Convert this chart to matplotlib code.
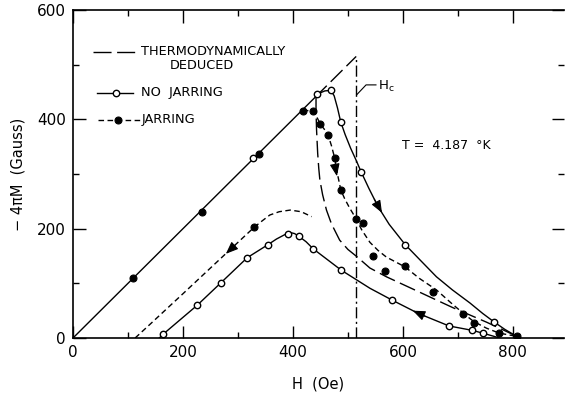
import matplotlib
matplotlib.use("Agg")
import matplotlib.pyplot as plt
from matplotlib.lines import Line2D

plt.rcParams['font.family'] = ['DejaVu Sans']
plt.rcParams['lines.scale_dashes'] = False

# ---------------- data ----------------
# ideal (perfect diamagnetism) line, -4piM = H
ideal_solid_H = [0, 440]
ideal_solid_M = [0, 440]
ideal_dash_H = [440, 515]
ideal_dash_M = [440, 515]

# critical field Hc
Hc_H = [515, 515]
Hc_M = [0, 515]

# thermodynamically deduced curve
thermo_H = [442, 442, 443, 445, 447, 449, 454, 461, 470, 485, 500, 516, 540, 570, 600, 630, 662, 692, 722, 752, 782, 807]
thermo_M = [442, 415, 380, 338, 310, 289, 262, 234, 209, 179, 162, 149, 128, 112, 98, 84, 69, 55, 42, 29, 15, 3]

# no jarring, increasing field (curve and points)
nj_up_curve_H = [444, 458, 469, 475, 481, 487, 495, 505, 515, 524, 538, 555, 575, 604, 630, 661, 690, 722, 745, 765, 785, 807]
nj_up_curve_M = [446, 452, 453, 443, 421, 395, 372, 347, 325, 304, 274, 240, 208, 171, 144, 112, 88, 64, 45, 30, 16, 3]
nj_up_pts_H = [328, 444, 469, 487, 524, 604, 765]
nj_up_pts_M = [329, 446, 453, 395, 304, 171, 30]

# no jarring, decreasing field (curve and points)
nj_dn_curve_H = [776, 745, 726, 684, 628, 581, 540, 488, 437, 424, 411, 403, 395, 385, 370, 355, 317, 269, 226, 164, 157]
nj_dn_curve_M = [0, 9, 14, 22, 45, 69, 91, 124, 163, 176, 186, 191, 193, 189, 181, 171, 147, 101, 60, 7, 0]
nj_dn_pts_H = [745, 726, 684, 581, 488, 437, 411, 391, 355, 317, 269, 226, 164]
nj_dn_pts_M = [9, 15, 22, 69, 124, 163, 186, 191, 171, 147, 101, 60, 7]

# jarring, increasing field (curve and points)
j_up_curve_H = [418, 436, 443, 450, 457, 464, 470, 476, 481, 487, 494, 503, 515, 525, 540, 555, 570, 587, 604, 630, 661, 690, 710, 729, 752, 775, 807]
j_up_curve_M = [416, 416, 405, 391, 382, 371, 352, 329, 300, 271, 255, 238, 218, 198, 175, 160, 148, 139, 130, 109, 88, 62, 45, 30, 18, 9, 3]
j_up_pts_H = [109, 234, 338, 418, 436, 450, 464, 476, 487, 515, 528, 545, 567, 604, 654, 710, 729, 775, 807]
j_up_pts_M = [110, 230, 336, 416, 416, 391, 371, 329, 271, 218, 211, 150, 123, 132, 84, 43, 28, 9, 4]

# jarring, decreasing field (curve and points)
j_dn_curve_H = [113, 140, 200, 284, 330, 345, 358, 375, 395, 415, 434]
j_dn_curve_M = [0, 25, 81, 160, 203, 215, 225, 231, 234, 231, 222]
j_dn_pts_H = [330]
j_dn_pts_M = [203]

# direction arrows on the curves: (tail H, tail M, tip H, tip M)
arrow_tail_H = [548, 476, 640, 295]
arrow_tail_M = [254, 318, 40, 170]
arrow_tip_H = [562, 480, 618, 278]
arrow_tip_M = [229, 296, 50, 154]

x_major = [0, 200, 400, 600, 800]
y_major = [0, 200, 400, 600]

# ---------------- figure ----------------
fig = plt.figure(figsize=(5.65, 3.95), dpi=100)
ax = fig.add_axes([73 / 565, (395 - 338) / 395, (564 - 73) / 565, (338 - 10) / 395])

lw = 1.0
long_dash = (12, 4)
short_dash = (4, 2.5)
dash_dot = (8, 2.5, 1.5, 2.5)

ax.plot(ideal_solid_H, ideal_solid_M, color='k', lw=lw)
ax.plot(ideal_dash_H, ideal_dash_M, color='k', lw=lw, dashes=long_dash)
ax.plot(Hc_H, Hc_M, color='k', lw=lw, dashes=dash_dot)
ax.plot(thermo_H, thermo_M, color='k', lw=lw, dashes=long_dash)

ax.plot(nj_up_curve_H, nj_up_curve_M, color='k', lw=lw)
ax.plot(nj_dn_curve_H, nj_dn_curve_M, color='k', lw=lw)
ax.plot(j_up_curve_H, j_up_curve_M, color='k', lw=lw, dashes=short_dash)
ax.plot(j_dn_curve_H, j_dn_curve_M, color='k', lw=lw, dashes=short_dash)

open_kw = dict(ls='none', marker='o', ms=4.6, mfc='white', mec='k', mew=1.0, zorder=5)
fill_kw = dict(ls='none', marker='o', ms=5.0, mfc='k', mec='k', mew=0.8, zorder=5)
ax.plot(nj_up_pts_H, nj_up_pts_M, **open_kw)
ax.plot(nj_dn_pts_H, nj_dn_pts_M, **open_kw)
ax.plot(j_up_pts_H, j_up_pts_M, **fill_kw)
ax.plot(j_dn_pts_H, j_dn_pts_M, **fill_kw)

for th, tm, hh, hm in zip(arrow_tail_H, arrow_tail_M, arrow_tip_H, arrow_tip_M):
    ax.annotate('', xy=(hh, hm), xytext=(th, tm),
                arrowprops=dict(arrowstyle='-|>,head_length=0.75,head_width=0.3',
                                color='k', lw=0.8, shrinkA=0, shrinkB=0),
                zorder=6)

# Hc label with leader
ax.plot([516, 533, 551], [445, 463, 463], color='k', lw=0.8)
ax.text(554, 460, 'H$_\\mathregular{c}$', fontsize=9.5, va='center', ha='left')

ax.text(598, 353, 'T =  4.187  °K', fontsize=9, va='center', ha='left')

# legend drawn by hand
fs_leg = 9.3
tr = ax.transAxes
ax.add_line(Line2D([0.0407, 0.1324], [0.872, 0.872], transform=tr, color='k', lw=lw, dashes=(13, 4)))
ax.text(0.1385, 0.872, 'THERMODYNAMICALLY', transform=tr, fontsize=fs_leg, va='center', ha='left')
ax.text(0.1976, 0.832, 'DEDUCED', transform=tr, fontsize=fs_leg, va='center', ha='left')

ax.add_line(Line2D([0.0489, 0.1222], [0.747, 0.747], transform=tr, color='k', lw=lw))
ax.add_line(Line2D([0.0876], [0.747], transform=tr, **open_kw))
ax.text(0.1385, 0.747, 'NO  JARRING', transform=tr, fontsize=fs_leg, va='center', ha='left')

ax.add_line(Line2D([0.0509, 0.1365], [0.665, 0.665], transform=tr, color='k', lw=lw, dashes=short_dash))
ax.add_line(Line2D([0.0916], [0.665], transform=tr, **fill_kw))
ax.text(0.140, 0.665, 'JARRING', transform=tr, fontsize=fs_leg, va='center', ha='left')

# axes
ax.set_xlim(0, 893)
ax.set_ylim(0, 600)
ax.set_xticks(x_major)
ax.set_yticks(y_major)
ax.set_xticks([100, 300, 500, 700], minor=True)
ax.set_yticks([100, 300, 500], minor=True)
ax.tick_params(which='both', direction='in', top=True, right=True, width=1.0, labelsize=11)
ax.tick_params(which='major', length=9, pad=5)
ax.tick_params(which='minor', length=4)
ax.spines['right'].set_visible(False)
for s in ['left', 'bottom', 'top']:
    ax.spines[s].set_linewidth(1.2)

ax.set_xlabel('H  (Oe)', fontsize=10.5, labelpad=12)
ax.set_ylabel('− 4πM  (Gauss)', fontsize=10.5, labelpad=8)

fig.savefig('out.png', dpi=100)
